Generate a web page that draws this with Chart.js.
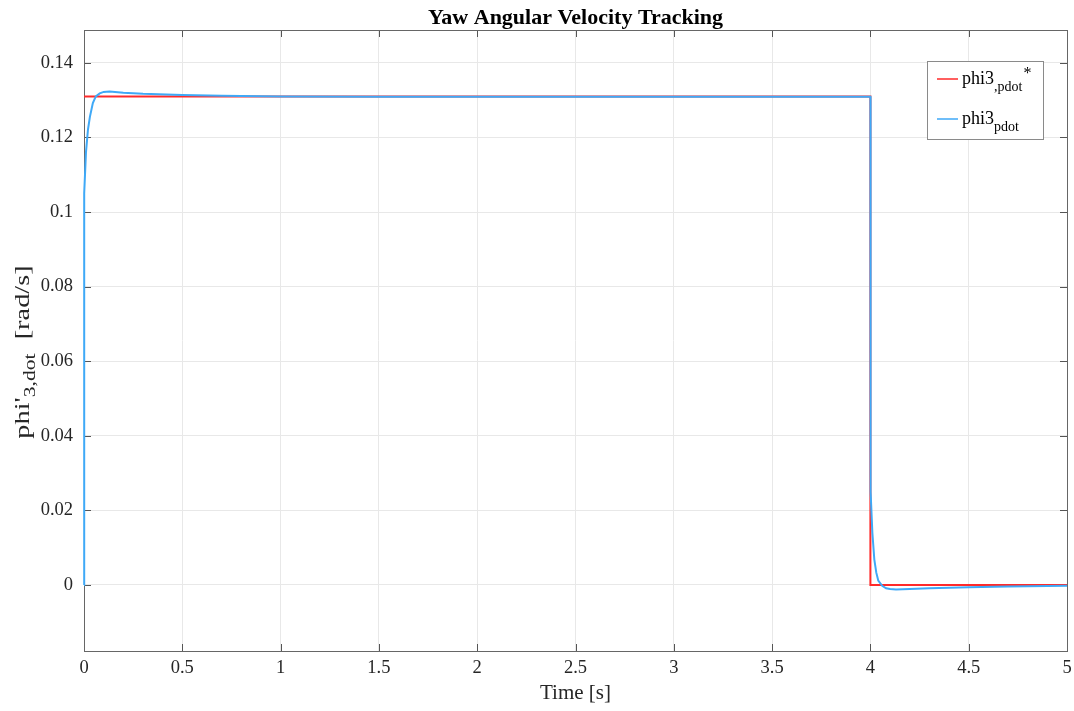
<!DOCTYPE html>
<html>
<head>
<meta charset="utf-8">
<script src="https://cdn.jsdelivr.net/npm/chart.js@4.4.1/dist/chart.umd.min.js"></script>
<style>
  html, body { margin: 0; padding: 0; background: #ffffff; }
  #wrap { width: 1074px; height: 711px; position: relative; }
</style>
</head>
<body>
<div id="wrap"><canvas id="c" width="1074" height="711"></canvas></div>
<script>
// Reference (commanded) yaw rate: step of 0.131 rad/s switched off at t = 4 s
const refTime  = [0, 4, 4, 5];
const refValue = [0.131, 0.131, 0, 0];

// Measured yaw rate
const measTime  = [0, 0.001, 0.01, 0.02, 0.03, 0.045, 0.06, 0.08, 0.1, 0.13, 0.2, 0.3, 0.5, 0.7, 1.0, 1.5, 2, 3, 4,
                   4.001, 4.01, 4.02, 4.03, 4.04, 4.06, 4.08, 4.1, 4.13, 4.2, 4.3, 4.5, 4.7, 5];
const measValue = [0, 0.105, 0.116, 0.122, 0.1255, 0.1292, 0.131, 0.1318, 0.1322, 0.1323, 0.1320, 0.1317, 0.1314, 0.1312, 0.1310, 0.1309, 0.1309, 0.1309, 0.1309,
                   0.025, 0.014, 0.0068, 0.0033, 0.0012, -0.0002, -0.0009, -0.0011, -0.0012, -0.0011, -0.0009, -0.0006, -0.0004, -0.0002];

const xTicks = [0, 0.5, 1, 1.5, 2, 2.5, 3, 3.5, 4, 4.5, 5];
const yTicks = [0, 0.02, 0.04, 0.06, 0.08, 0.1, 0.12, 0.14];
const xRange = [0, 5];
const yRange = [-0.0177, 0.1488];

const RED = '#ff2a2a';
const BLUE = '#3fa9f7';
const FONT = '"Liberation Serif", "Times New Roman", serif';
const INK = '#262626';

const toPoints = (t, v) => t.map((x, i) => ({ x: x, y: v[i] }));

// Inward tick marks on all four sides plus the box outline (under the curves)
const boxTicks = {
  id: 'boxTicks',
  beforeDatasetsDraw(chart) {
    const { ctx, chartArea: a, scales } = chart;
    ctx.save();
    ctx.strokeStyle = '#555555';
    ctx.lineWidth = 1;
    ctx.beginPath();
    const L = 7;
    xTicks.forEach(v => {
      const px = Math.round(scales.x.getPixelForValue(v)) + 0.5;
      ctx.moveTo(px, a.bottom); ctx.lineTo(px, a.bottom - L);
      ctx.moveTo(px, a.top); ctx.lineTo(px, a.top + L);
    });
    yTicks.forEach(v => {
      const py = Math.round(scales.y.getPixelForValue(v)) + 0.5;
      ctx.moveTo(a.left, py); ctx.lineTo(a.left + L, py);
      ctx.moveTo(a.right, py); ctx.lineTo(a.right - L, py);
    });
    ctx.stroke();
    ctx.strokeStyle = '#666666';
    ctx.strokeRect(Math.round(a.left) + 0.5, Math.round(a.top) + 0.5,
                   Math.round(a.right - a.left), Math.round(a.bottom - a.top));
    ctx.restore();
  }
};

// Title, axis labels with sub/superscripts, and the legend box
const annotations = {
  id: 'annotations',
  afterDraw(chart) {
    const { ctx, chartArea: a } = chart;
    ctx.save();
    ctx.fillStyle = '#000000';
    ctx.textBaseline = 'alphabetic';

    // Title
    ctx.font = 'bold 22px ' + FONT;
    ctx.textAlign = 'center';
    ctx.fillText('Yaw Angular Velocity Tracking', (a.left + a.right) / 2, 24);

    // x-axis label
    ctx.font = '21px ' + FONT;
    ctx.fillStyle = INK;
    ctx.fillText('Time [s]', (a.left + a.right) / 2, 699);

    // y-axis label, rotated and drawn a little elongated
    ctx.save();
    ctx.translate(29, 352);
    ctx.rotate(-Math.PI / 2);
    ctx.scale(1.35, 1);
    ctx.textAlign = 'left';
    const parts = [
      { t: "phi'", f: '21px ', dy: 0 },
      { t: '3,dot', f: '16px ', dy: 6 },
      { t: '  [rad/s]', f: '21px ', dy: 0 }
    ];
    let w = 0;
    parts.forEach(p => { ctx.font = p.f + FONT; w += ctx.measureText(p.t).width; });
    let x = -w / 2;
    parts.forEach(p => {
      ctx.font = p.f + FONT;
      ctx.fillText(p.t, x, p.dy);
      x += ctx.measureText(p.t).width;
    });
    ctx.restore();

    // Legend
    const lx = 927, ly = 61, lw = 116, lh = 78;
    ctx.fillStyle = '#ffffff';
    ctx.fillRect(lx, ly, lw, lh);
    ctx.strokeStyle = '#8a8a8a';
    ctx.lineWidth = 1;
    ctx.strokeRect(lx + 0.5, ly + 0.5, lw, lh);

    const entries = [
      { color: RED, y: 79, sub: ',pdot', sup: '*' },
      { color: BLUE, y: 119, sub: 'pdot', sup: '' }
    ];
    entries.forEach(e => {
      ctx.strokeStyle = e.color;
      ctx.lineWidth = 1.5;
      ctx.beginPath();
      ctx.moveTo(937, e.y); ctx.lineTo(958, e.y);
      ctx.stroke();
      ctx.fillStyle = '#000000';
      ctx.textAlign = 'left';
      ctx.font = '18px ' + FONT;
      const base = e.y + 5;
      ctx.fillText('phi3', 962, base);
      let px = 962 + ctx.measureText('phi3').width;
      ctx.font = '14px ' + FONT;
      ctx.fillText(e.sub, px, base + 7);
      const subW = ctx.measureText(e.sub).width;
      if (e.sup) {
        ctx.font = '16px ' + FONT;
        ctx.fillText(e.sup, px + subW + 1, base - 6);
      }
    });
    ctx.restore();
  }
};

new Chart(document.getElementById('c'), {
  type: 'line',
  data: {
    datasets: [
      {
        label: 'phi3,pdot*',
        data: toPoints(refTime, refValue),
        borderColor: RED,
        borderWidth: 2,
        pointRadius: 0,
        tension: 0,
        clip: false,
        order: 2
      },
      {
        label: 'phi3pdot',
        data: toPoints(measTime, measValue),
        borderColor: BLUE,
        borderWidth: 2,
        pointRadius: 0,
        tension: 0,
        clip: false,
        order: 1
      }
    ]
  },
  options: {
    responsive: false,
    animation: false,
    events: [],
    layout: { padding: { top: 30, right: 7, left: 0, bottom: 0 } },
    plugins: { legend: { display: false }, title: { display: false }, tooltip: { enabled: false } },
    scales: {
      x: {
        type: 'linear',
        min: xRange[0], max: xRange[1],
        afterBuildTicks(s) { s.ticks = xTicks.map(v => ({ value: v })); },
        afterFit(s) { s.height = 60; s.paddingLeft = 0; s.paddingRight = 0; },
        grid: { color: '#e8e8e8', drawTicks: false },
        border: { display: false },
        ticks: {
          padding: 6,
          color: INK,
          font: { family: FONT, size: 18.5 },
          maxRotation: 0,
          callback: v => String(v)
        }
      },
      y: {
        type: 'linear',
        min: yRange[0], max: yRange[1],
        afterBuildTicks(s) { s.ticks = yTicks.map(v => ({ value: v })); },
        afterFit(s) { s.width = 84; s.paddingTop = 0; s.paddingBottom = 0; },
        grid: { color: '#e8e8e8', drawTicks: false },
        border: { display: false },
        ticks: {
          padding: 11,
          color: INK,
          font: { family: FONT, size: 18.5 },
          callback: v => String(Math.round(v * 100) / 100)
        }
      }
    }
  },
  plugins: [boxTicks, annotations]
});
</script>
</body>
</html>
